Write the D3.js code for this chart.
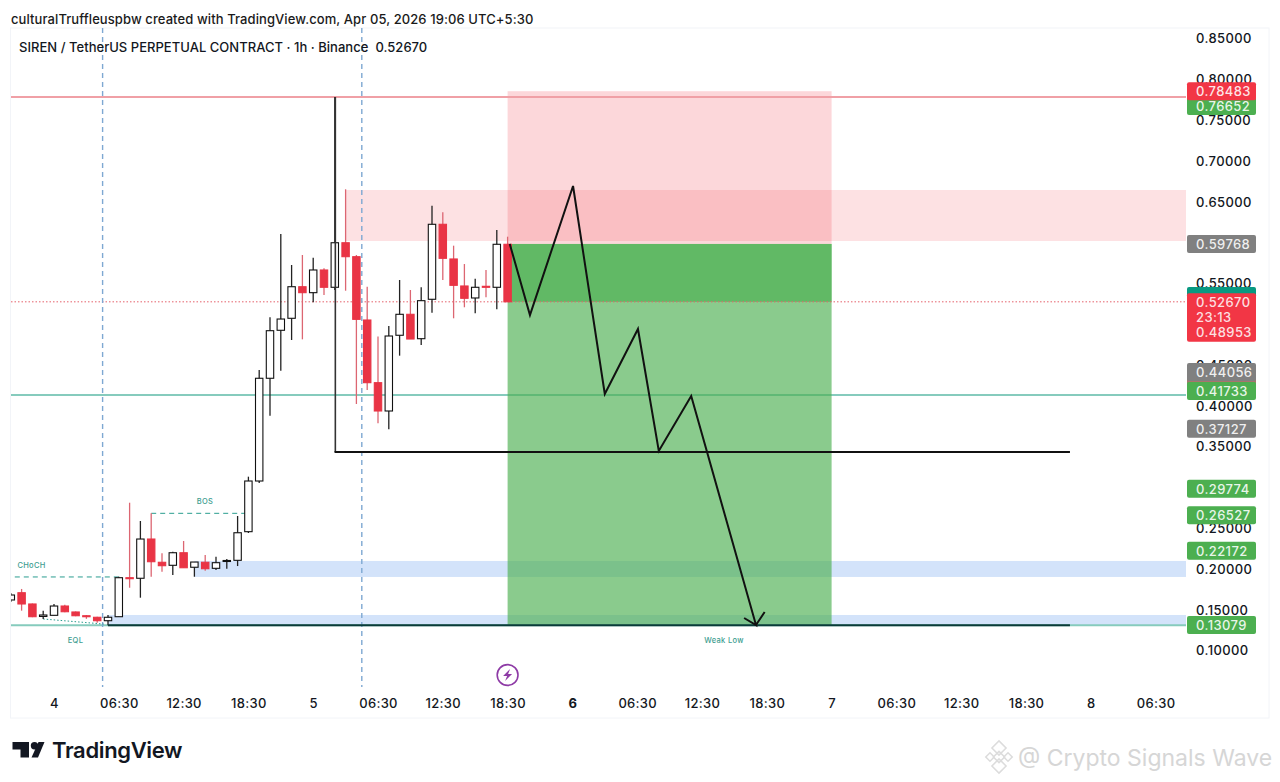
<!DOCTYPE html>
<html lang="en">
  <head>
    <meta charset="utf-8" />
    <title>SIREN / TetherUS chart</title>
    <script src="https://d3js.org/d3.v7.min.js"></script>
    <style type="text/css">
      html, body { margin: 0; padding: 0; background: #fff; overflow: hidden; }
      text { font-family: Inter, "Liberation Sans", sans-serif; }
    </style>
  </head>
  <body>
    <script type="text/javascript">
      // Candles, index 0 is the bar under the "4" label
      const firstBar = -4;
      const candleOpen = [.1613,.1702,.1564,.1411,.1425,.1539,.1466,.1420,.1401,.1359,.1408,.1886,.1879,.2360,.2075,.2038,.2192,.2014,.2075,.2001,.2085,.2099,.2450,.3071,.4330,.4918,.5065,.5452,.5379,.5657,.5445,.5991,.5820,.5044,.4276,.3929,.4857,.5114,.4815,.5298,.6217,.5792,.5461,.5314,.5457,.5445,.5972];
      const candleClose = [.1674,.1564,.1408,.1429,.1539,.1469,.1420,.1413,.1359,.1401,.1886,.1874,.2360,.2082,.2033,.2192,.2008,.2078,.1996,.2070,.2097,.2437,.3071,.4330,.4913,.5056,.5452,.5379,.5657,.5445,.5991,.5820,.5052,.4276,.3929,.4848,.5114,.4811,.5281,.6217,.5800,.5469,.5310,.5445,.5449,.5972,.5267];
      const candleHigh = [.1698,.1748,.1570,.1482,.1564,.1556,.1472,.1429,.1408,.1429,.1898,.2805,.2581,.2675,.2185,.2204,.2336,.2078,.2164,.2143,.2115,.2642,.3124,.4431,.5077,.6098,.5718,.5841,.5808,.5678,.7777,.6646,.5841,.5452,.4842,.4971,.5534,.5412,.5445,.6445,.6364,.5955,.5730,.5550,.5657,.6147,.6065];
      const candleLow = [.1588,.1482,.1402,.1380,.1425,.1462,.1414,.1382,.1335,.1303,.1408,.1763,.1641,.1898,.1960,.1919,.2008,.1898,.1972,.1980,.1996,.2029,.2434,.3047,.3871,.4423,.4799,.4807,.5261,.5350,.5412,.5403,.4015,.4186,.3778,.3705,.4607,.4811,.4738,.5133,.5534,.5065,.5200,.5126,.5322,.5175,.5267];

      // Axes
      const priceTicks = [.85,.8,.75,.7,.65,.6,.55,.5,.45,.4,.35,.3,.25,.2,.15,.1];
      const timeTicks = [0,6,12,18,24,30,36,42,48,54,60,66,72,78,84,90,96,102];
      const timeLabels = ['4','06:30','12:30','18:30','5','06:30','12:30','18:30','6','06:30','12:30','18:30','7','06:30','12:30','18:30','8','06:30'];

      // Price scale tags
      const greenTags = [0.76652,0.41733,0.29774,0.26527,0.22172,0.13079];
      const greyTags = [0.59768,0.44056,0.37127];
      const redTags = [0.78483];
      const lastPrice = 0.5267;
      const countdown = '23:13';
      const lastSub = 0.48953;
      const hiddenTealTag = 0.5338;
      const hiddenBrownTag = 0.4284;

      // Drawn levels
      const redLevel = 0.7777;
      const tealLevel = 0.4126;
      const lowLevel = 0.1304;
      const cornerTop = 0.7777;
      const cornerPrice = 0.3425;
      const cornerBars = [26.05,94.07];
      const lowLineBars = [5,94.07];
      const sessionBars = [4.5,28.5];
      const chochBars = [-4,6];
      const chochPrice = 0.1895;
      const bosBars = [9,18];
      const bosPrice = 0.2675;
      const eqlBars = [-1,4.6];
      const eqlPrices = [0.1380,0.1318];

      // Zones
      const supplyZone = [0.6637,0.6012];
      const supplyStart = 27;
      const demandHigh = [0.2091,0.1895];
      const demandHighStart = 13;
      const demandLow = [0.1429,0.1304];
      const demandLowStart = 5;
      const positionBars = [42,72];
      const positionStop = 0.7848;
      const positionEntry = 0.5976;
      const positionMid = 0.5267;
      const positionTarget = 0.1308;

      // Projected path
      const pathBars = [42.2,44.07,48.06,51,54.07,56,59,65,63.9,65,65.8];
      const pathPrices = [.5976,.5105,.6686,.4137,.4934,.3439,.4113,.1306,.1392,.1306,.1466];

      const w = 1280;
      const h = 782;
      const paneLeft = 11;
      const paneRight = 1186;
      const paneTop = 28;
      const paneBottom = 690;

      const xScale = d3.scaleLinear().domain([0, 102]).range([54, 1155.6]);
      const yScale = d3.scaleLinear().domain([0.1, 0.85]).range([650, 38]);
      const bars = d3.range(candleOpen.length).map(i => ({
        i: i + firstBar,
        o: candleOpen[i],
        c: candleClose[i],
        h: candleHigh[i],
        l: candleLow[i],
      }));

      const svg = d3
        .select('body')
        .append('svg')
        .attr('width', w)
        .attr('height', h)
        .style('display', 'block');

      svg
        .append('clipPath')
        .attr('id', 'pane')
        .append('rect')
        .attr('x', paneLeft)
        .attr('y', paneTop)
        .attr('width', paneRight - paneLeft)
        .attr('height', paneBottom - paneTop);

      // Frame
      svg
        .append('rect')
        .attr('x', 10.5)
        .attr('y', paneTop)
        .attr('width', 1258.5)
        .attr('height', 690)
        .attr('fill', 'none')
        .attr('stroke', '#f2f4f8');

      const zone = (x0, x1, top, bottom, fill, opacity) =>
        svg
          .append('rect')
          .attr('x', x0)
          .attr('y', yScale(top))
          .attr('width', x1 - x0)
          .attr('height', yScale(bottom) - yScale(top))
          .attr('fill', fill)
          .attr('fill-opacity', opacity);

      zone(xScale(supplyStart), paneRight, supplyZone[0], supplyZone[1], '#f23645', 0.15);
      zone(xScale(demandHighStart), paneRight, demandHigh[0], demandHigh[1], '#a8c8f5', 0.5);
      zone(xScale(demandLowStart), paneRight, demandLow[0], demandLow[1], '#a8c8f5', 0.5);

      const hLine = (x0, x1, price, colour, width, dash) =>
        svg
          .append('line')
          .attr('x1', x0)
          .attr('x2', x1)
          .attr('y1', yScale(price))
          .attr('y2', yScale(price))
          .attr('stroke', colour)
          .attr('stroke-width', width)
          .attr('stroke-dasharray', dash || null);

      hLine(paneLeft, paneRight, tealLevel, '#86cbbd', 2);
      hLine(paneLeft, paneRight, lowLevel, '#86cbbd', 2);

      // Position tool
      const px0 = xScale(positionBars[0]);
      const px1 = xScale(positionBars[1]);
      zone(px0, px1, positionStop, positionEntry, '#f23645', 0.2);
      zone(px0, px1, positionEntry, positionTarget, '#4caf50', 0.65);
      zone(px0, px1, positionEntry, positionMid, '#4caf50', 0.65);

      hLine(paneLeft, paneRight, redLevel, '#f0a0a6', 2);
      hLine(paneLeft, paneRight, lastPrice, '#e5606b', 1, '1.5 2');

      // Session breaks
      svg
        .selectAll('.session')
        .data(sessionBars)
        .enter()
        .append('line')
        .attr('class', 'session')
        .attr('x1', d => xScale(d))
        .attr('x2', d => xScale(d))
        .attr('y1', paneTop)
        .attr('y2', paneBottom - 3)
        .attr('stroke', '#7ea8d2')
        .attr('stroke-width', 1.4)
        .attr('stroke-dasharray', '5 4');

      // Structure marks
      hLine(xScale(chochBars[0]) + 4, xScale(chochBars[1]), chochPrice, '#2a9d8f', 1, '5 4');
      hLine(xScale(bosBars[0]), xScale(bosBars[1]), bosPrice, '#2a9d8f', 1, '5 4');
      svg
        .append('line')
        .attr('x1', xScale(eqlBars[0]))
        .attr('x2', xScale(eqlBars[1]))
        .attr('y1', yScale(eqlPrices[0]))
        .attr('y2', yScale(eqlPrices[1]))
        .attr('stroke', '#2a9d8f')
        .attr('stroke-width', 1)
        .attr('stroke-dasharray', '1.5 2');

      const smallLabel = (x, y, label) =>
        svg
          .append('text')
          .attr('x', x)
          .attr('y', y)
          .attr('text-anchor', 'middle')
          .attr('font-size', 7.5)
          .attr('font-weight', 500)
          .attr('letter-spacing', 0.3)
          .attr('fill', '#3d9d90')
          .text(label);
      smallLabel(31.5, 568, 'CHoCH');
      smallLabel(205, 504, 'BOS');
      smallLabel(75.5, 642.5, 'EQL');
      smallLabel(724, 642.5, 'Weak Low');

      // Candles
      const candles = svg.append('g').attr('clip-path', 'url(#pane)');
      const up = d => d.c >= d.o;
      candles
        .selectAll('line')
        .data(bars)
        .enter()
        .append('line')
        .attr('x1', d => xScale(d.i))
        .attr('x2', d => xScale(d.i))
        .attr('y1', d => yScale(d.h))
        .attr('y2', d => yScale(d.l))
        .attr('stroke', d => (up(d) ? '#222' : '#dc6672'))
        .attr('stroke-width', 1.3);
      candles
        .selectAll('rect')
        .data(bars)
        .enter()
        .append('rect')
        .attr('x', d => xScale(d.i) - 3.7)
        .attr('width', 7.4)
        .attr('y', d => yScale(Math.max(d.o, d.c)))
        .attr('height', d => Math.max(Math.abs(yScale(d.o) - yScale(d.c)), 1))
        .attr('fill', d => (up(d) ? '#fff' : '#e93445'))
        .attr('stroke', d => (up(d) ? '#111' : '#e93445'))
        .attr('stroke-width', 1.1);

      // Black drawn lines
      svg
        .append('line')
        .attr('x1', xScale(cornerBars[0]))
        .attr('x2', xScale(cornerBars[0]))
        .attr('y1', yScale(cornerTop))
        .attr('y2', yScale(cornerPrice))
        .attr('stroke', '#333')
        .attr('stroke-width', 1.6);
      hLine(xScale(cornerBars[0]) - 0.8, xScale(cornerBars[1]), cornerPrice, '#111', 2);
      hLine(xScale(lowLineBars[0]), xScale(lowLineBars[1]), lowLevel, '#0b3b3a', 2);

      svg
        .append('path')
        .attr(
          'd',
          d3
            .line()
            .x(d => xScale(d[0]))
            .y(d => yScale(d[1]))(d3.zip(pathBars, pathPrices))
        )
        .attr('fill', 'none')
        .attr('stroke', '#111')
        .attr('stroke-width', 2);

      // Alert icon
      const icon = svg.append('g').attr('transform', `translate(${xScale(42)},675)`);
      icon
        .append('circle')
        .attr('r', 10.4)
        .attr('fill', '#fff')
        .attr('stroke', '#8e3ba6')
        .attr('stroke-width', 1.6);
      icon
        .append('path')
        .attr('d', 'M2.5 -6 L-4.5 1 L-0.5 1 L-2.5 6 L4.5 -1 L0.5 -1 Z')
        .attr('fill', '#8e3ba6');

      // Price axis
      const yAxis = d3
        .axisRight(yScale)
        .tickValues(priceTicks)
        .tickSize(0)
        .tickPadding(0)
        .tickFormat(d3.format('.5f'));
      const yG = svg.append('g').attr('transform', 'translate(1196,0.8)').call(yAxis);
      yG.select('.domain').remove();
      yG.selectAll('text')
        .attr('font-size', 13)
        .attr('font-family', 'Inter')
        .attr('font-weight', 500)
        .attr('letter-spacing', 0.4)
        .attr('fill', '#131722');

      // Time axis
      const xAxis = d3
        .axisBottom(xScale)
        .tickValues(timeTicks)
        .tickSize(0)
        .tickPadding(0)
        .tickFormat((d, i) => timeLabels[i]);
      const xG = svg.append('g').attr('transform', 'translate(0,699)').call(xAxis);
      xG.select('.domain').remove();
      xG.selectAll('text')
        .attr('font-size', 13)
        .attr('font-family', 'Inter')
        .attr('font-weight', d => (d === 48 ? 700 : 500))
        .attr('letter-spacing', 0.3)
        .attr('fill', '#131722');

      // Price tags
      const tag = (value, fill, label) => {
        const cy = yScale(value);
        svg
          .append('rect')
          .attr('x', 1187)
          .attr('y', cy - 9)
          .attr('width', 69)
          .attr('height', 18)
          .attr('rx', 2)
          .attr('fill', fill);
        if (label !== null)
          svg
            .append('text')
            .attr('x', 1196)
            .attr('y', cy + 4.9)
            .attr('font-size', 13)
            .attr('font-weight', 500)
            .attr('letter-spacing', 0.4)
            .attr('fill', '#fff')
            .attr('fill-opacity', 0.88)
            .text(label);
      };
      const fmt = d3.format('.5f');

      tag(hiddenTealTag, '#089981', null);
      tag(hiddenBrownTag, '#a8756c', null);
      greenTags.forEach(v => tag(v, '#4caf50', fmt(v)));
      greyTags.forEach(v => tag(v, '#808080', fmt(v)));
      redTags.forEach(v => tag(v, '#f23645', fmt(v)));

      // Last price block
      const blockTop = yScale(lastPrice) - 8.5;
      const blockBottom = yScale(lastSub) + 9.5;
      svg
        .append('rect')
        .attr('x', 1187)
        .attr('y', blockTop)
        .attr('width', 69)
        .attr('height', blockBottom - blockTop)
        .attr('rx', 2)
        .attr('fill', '#f23645');
      [
        [fmt(lastPrice), yScale(lastPrice)],
        [countdown, (yScale(lastPrice) + yScale(lastSub)) / 2],
        [fmt(lastSub), yScale(lastSub)],
      ].forEach(d => {
        svg
          .append('text')
          .attr('x', 1196)
          .attr('y', d[1] + 4.9)
          .attr('font-size', 13)
          .attr('font-weight', 500)
          .attr('letter-spacing', 0.4)
          .attr('fill', '#fff')
          .attr('fill-opacity', 0.85)
          .text(d[0]);
      });

      // Header
      svg
        .append('text')
        .attr('x', 11)
        .attr('y', 23.5)
        .attr('font-size', 13)
        .attr('font-weight', 500)
        .attr('letter-spacing', 0.09)
        .attr('fill', '#1a1a1a')
        .text('culturalTruffleuspbw created with TradingView.com, Apr 05, 2026 19:06 UTC+5:30');
      svg
        .append('text')
        .attr('x', 19)
        .attr('y', 52)
        .attr('font-size', 13)
        .attr('font-weight', 500)
        .attr('letter-spacing', 0.03)
        .attr('fill', '#131722')
        .style('white-space', 'pre')
        .text('SIREN / TetherUS PERPETUAL CONTRACT · 1h · Binance  0.52670');

      // Logo
      const logo = svg.append('g').attr('fill', '#131722');
      logo.append('path').attr('d', 'M12.5 742 H29 V757.5 H20.5 V749.5 H12.5 Z');
      logo.append('circle').attr('cx', 34.5).attr('cy', 745.7).attr('r', 3.7);
      logo.append('path').attr('d', 'M38.5 742 H44.5 L38 757.5 H31.5 Z');
      svg
        .append('text')
        .attr('x', 52)
        .attr('y', 758)
        .attr('font-size', 22)
        .attr('font-weight', 600)
        .attr('letter-spacing', -0.35)
        .attr('fill', '#131722')
        .text('TradingView');

      // Watermark
      const mark = svg
        .append('g')
        .attr('transform', 'translate(999,757)')
        .attr('fill', 'none')
        .attr('stroke', '#dcdcdc')
        .attr('stroke-width', 1.5);
      [[0, -9, 5], [0, 0, 4], [-9, 0, 3], [9, 0, 3], [0, 9, 5]].forEach(d => {
        mark
          .append('rect')
          .attr('x', -d[2])
          .attr('y', -d[2])
          .attr('width', d[2] * 2)
          .attr('height', d[2] * 2)
          .attr('transform', `translate(${d[0]},${d[1]}) rotate(45)`);
      });
      svg
        .append('text')
        .attr('x', 1018)
        .attr('y', 766)
        .attr('font-family', 'Open Sans')
        .attr('font-size', 23)
        .attr('fill', '#d6d6d6')
        .text('@ Crypto Signals Wave');
    </script>
  </body>
</html>
